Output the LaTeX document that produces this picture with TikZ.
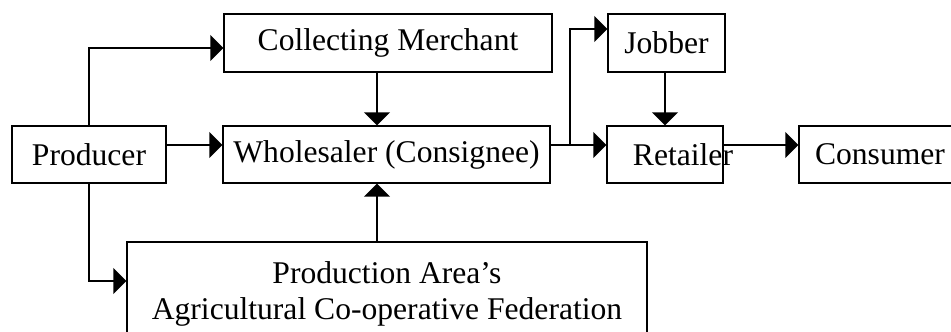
\documentclass[tikz,border=0pt]{standalone}
\usepackage{fontspec}
\setmainfont{Liberation Serif}
\usetikzlibrary{arrows.meta}

\begin{document}
\begin{tikzpicture}[
        x=1pt, y=-1pt,
        every node/.style={align=center, font=\fontsize{31.6}{36}\selectfont},
        box/.style={draw, rectangle, line width=1.4pt, inner sep=0pt, minimum height=57pt},
        flow/.style={line width=1.6pt, -{Triangle[length=13pt,width=26pt]}},
    ]
    \useasboundingbox (0,0) rectangle (951,332);
    \node[box, minimum width=154pt] (prod) at (89,154.5) {Producer};
    \node[box, minimum width=328pt, minimum height=58pt] (coll) at (388,43) {Collecting Merchant};
    \node[box, minimum width=327pt] (whole) at (386.5,154.5) {Wholesaler (Consignee)};
    \node[box, minimum width=117pt, minimum height=58pt] (job) at (666.5,43) {Jobber};
    \node[box, minimum width=116pt, label={[xshift=18pt]center:Retailer}] (ret) at (665,154.5) {};
    \node[box, minimum width=162pt] (cons) at (880,154.5) {Consumer};
    \node[box, minimum width=520pt, minimum height=104pt] (coop) at (387,294)
        {Production Area's\\ Agricultural Co-operative Federation};
    \draw[flow] (prod.north) |- ([yshift=-5pt]coll.west);
    \draw[flow] ([yshift=9.5pt]prod.east) -- ([yshift=9.5pt]whole.west);
    \draw[flow] (prod.south) |- ([yshift=13pt]coop.west);
    \draw[flow] ([xshift=-10pt]coop.north |- coll.south) -- ([xshift=-10pt]coop.north |- whole.north);
    \draw[flow] ([xshift=-10pt]coop.north) -- ([xshift=-10pt]coop.north |- whole.south);
    \draw[flow] ([yshift=9.5pt]whole.east) -- ([yshift=9.5pt]ret.west);
    \draw[flow] ([xshift=19pt,yshift=9.5pt]whole.east) |- ([yshift=14pt]job.west);
    \draw[flow] (ret.north |- job.south) -- (ret.north);
    \draw[flow] ([yshift=9.5pt]ret.east) -- ([yshift=9.5pt]cons.west);
\end{tikzpicture}
\end{document}
